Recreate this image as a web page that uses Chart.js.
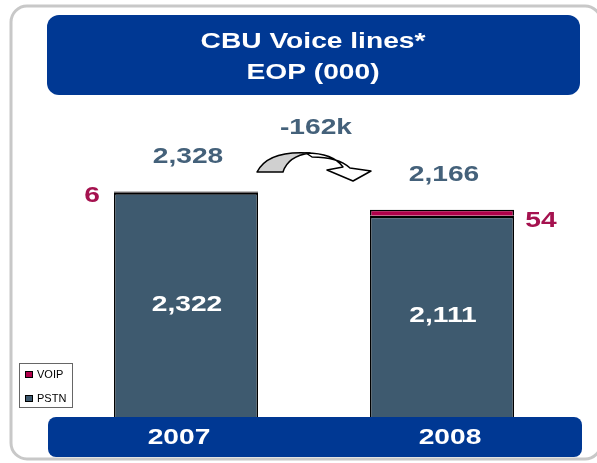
<!DOCTYPE html>
<html>
<head>
<meta charset="utf-8">
<script src="https://cdn.jsdelivr.net/npm/chart.js@4"></script>
<style>
  body { margin: 0; background: #fff; }
  #wrap { width: 597px; height: 463px; }
</style>
</head>
<body>
<div id="wrap"><canvas id="grafico"></canvas></div>
<script>
var categories = ["2007", "2008"];
var pstnValues = [2322, 2111];
var voipValues = [6, 54];
var totalValues = [2328, 2166];
var seriesNames = ["PSTN", "VOIP"];
var titleLines = ["CBU Voice lines*", "EOP (000)"];
var changeLabel = "-162k";

var azul = "#003893";
var pizarra = "#3E5A6F";
var textoPizarra = "#44617A";
var carmesi = "#B0004A";
var textoCarmesi = "#A5124F";

var fmt = function (v) {
  return v.toLocaleString("en-US");
};

var texto = function (ctx, txt, x, y, size, color) {
  ctx.save();
  ctx.translate(x, y);
  ctx.scale(1.28, 1);
  ctx.font = "bold " + size + "px 'Liberation Sans', Arial, sans-serif";
  ctx.fillStyle = color;
  ctx.textAlign = "center";
  ctx.textBaseline = "middle";
  ctx.fillText(txt, 0, 0);
  ctx.restore();
};

var cajaRedonda = function (ctx, x, y, w, h, r) {
  ctx.beginPath();
  ctx.roundRect(x, y, w, h, r);
};

// fondo: marco gris y caja del titulo
var fondoPlugin = {
  id: "fondo",
  beforeDraw: function (chart) {
    var ctx = chart.ctx;
    ctx.save();
    ctx.fillStyle = "#fff";
    ctx.fillRect(0, 0, chart.width, chart.height);
    cajaRedonda(ctx, 11, 6, 590, 453, 16);
    ctx.strokeStyle = "#c8c8c8";
    ctx.lineWidth = 3;
    ctx.stroke();
    cajaRedonda(ctx, 47, 15, 533, 80, 12);
    ctx.fillStyle = azul;
    ctx.fill();
    ctx.restore();
    texto(ctx, titleLines[0], 313, 42, 22, "#fff");
    texto(ctx, titleLines[1], 313, 73, 22, "#fff");
  },
};

// etiquetas, caja de categorias, flecha y leyenda
var etiquetasPlugin = {
  id: "etiquetas",
  afterDatasetsDraw: function (chart) {
    var ctx = chart.ctx;
    var pstn = chart.getDatasetMeta(0).data;
    var voip = chart.getDatasetMeta(1).data;

    ctx.save();
    cajaRedonda(ctx, 48, 417, 534, 40, 8);
    ctx.fillStyle = azul;
    ctx.fill();
    ctx.restore();

    for (var i = 0; i < categories.length; i++) {
      var barra = pstn[i];
      var tope = voip[i].y;
      texto(ctx, fmt(totalValues[i]), barra.x + 2, tope - 35, 22, textoPizarra);
      texto(ctx, fmt(pstnValues[i]), barra.x + 1, (barra.y + 417) / 2, 22, "#fff");
      texto(ctx, categories[i], barra.x + (i === 0 ? -7 : 8), 438, 22, "#fff");
    }
    texto(ctx, fmt(voipValues[0]), pstn[0].x - 94, voip[0].y + 4, 22, textoCarmesi);
    texto(ctx, fmt(voipValues[1]), pstn[1].x + 99, voip[1].y + 11, 22, textoCarmesi);
    texto(ctx, changeLabel, 316, 128, 22, textoPizarra);

    // flecha curva
    ctx.save();
    ctx.lineWidth = 1.5;
    ctx.strokeStyle = "#000";
    ctx.lineJoin = "round";
    ctx.beginPath();
    ctx.moveTo(306, 153);
    ctx.quadraticCurveTo(333, 153, 343, 167);
    ctx.lineTo(327, 170);
    ctx.lineTo(353, 181);
    ctx.lineTo(371, 171);
    ctx.lineTo(350, 168);
    ctx.quadraticCurveTo(338, 157, 312, 157);
    ctx.closePath();
    ctx.fillStyle = "#fff";
    ctx.fill();
    ctx.stroke();
    ctx.beginPath();
    ctx.moveTo(257, 172);
    ctx.quadraticCurveTo(268, 150, 310, 153);
    ctx.quadraticCurveTo(288, 156, 283, 172);
    ctx.closePath();
    ctx.fillStyle = "#d0d0d0";
    ctx.fill();
    ctx.stroke();
    ctx.restore();

    // leyenda
    ctx.save();
    ctx.fillStyle = "#fff";
    ctx.fillRect(19.5, 363.5, 53, 44);
    ctx.strokeStyle = "#666";
    ctx.lineWidth = 1;
    ctx.strokeRect(19.5, 363.5, 53, 44);
    var entradas = [
      { nombre: seriesNames[1], color: carmesi, y: 375 },
      { nombre: seriesNames[0], color: pizarra, y: 399 },
    ];
    entradas.forEach(function (e) {
      ctx.fillStyle = e.color;
      ctx.fillRect(25.5, e.y - 3.5, 7, 6);
      ctx.strokeStyle = "#000";
      ctx.strokeRect(25.5, e.y - 3.5, 7, 6);
      ctx.fillStyle = "#000";
      ctx.font = "11px 'Liberation Sans', Arial, sans-serif";
      ctx.textBaseline = "middle";
      ctx.fillText(e.nombre, 37, e.y);
    });
    ctx.restore();
  },
};

var ctx = document.getElementById("grafico").getContext("2d");
var myChart = new Chart(ctx, {
  type: "bar",
  data: {
    labels: categories,
    datasets: [
      {
        label: seriesNames[0],
        data: pstnValues,
        backgroundColor: pizarra,
        borderColor: "#000",
        borderWidth: { top: 2.5, left: 1.5, right: 1.5, bottom: 1.5 },
      },
      {
        label: seriesNames[1],
        data: voipValues,
        backgroundColor: carmesi,
        borderColor: "#000",
        borderWidth: 1.5,
      },
    ],
  },
  options: {
    responsive: true,
    maintainAspectRatio: false,
    animation: false,
    barPercentage: 0.5625,
    categoryPercentage: 1,
    layout: { padding: { left: 58, right: 27, top: 117, bottom: 13 } },
    scales: {
      x: { stacked: true, display: false },
      y: { stacked: true, display: false, min: 0, max: 3000 },
    },
    plugins: {
      legend: { display: false },
      tooltip: { enabled: false },
    },
  },
  plugins: [fondoPlugin, etiquetasPlugin],
});
</script>
</body>
</html>
